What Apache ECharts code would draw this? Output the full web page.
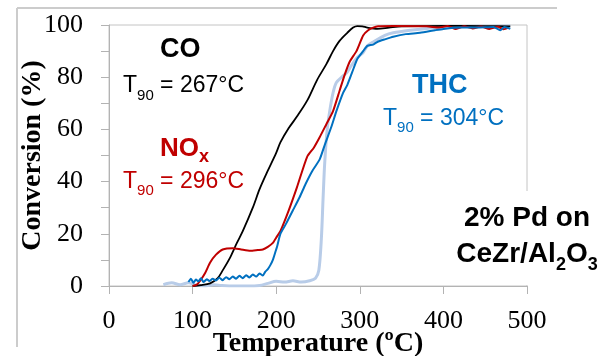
<!DOCTYPE html>
<html><head><meta charset="utf-8">
<script src="https://cdn.jsdelivr.net/npm/echarts@6/dist/echarts.min.js"></script>
<style>html,body{margin:0;padding:0;background:#fff}#c{width:605px;height:356px}</style>
</head><body><div id="c"></div>
<script>
// ---- data (temperature °C, conversion %) ----
const xTicks = [0, 100, 200, 300, 400, 500];
const yTicks = [0, 20, 40, 60, 80, 100];

const coData = [[100,0],[110,0.3],[121,1],[130,3],[136,6],[145,11],[153,16.5],[160,21],[172,30],[180,37],[189,43.5],[200,51],[205,55],[215,60.5],[225,65],[237,71],[249,79],[260,85],[268,90],[276,94],[285,97],[292,99],[297,99.6],[303,99.5],[309,99],[321,98.5],[335,99],[350,99.5],[400,99.7],[450,99.6],[480,99.5]];

const noxData = [[100,0],[105,0.5],[109,2],[115,5],[121,9],[128,12],[136,14],[148,14.5],[158,14],[169,13.5],[178,13.8],[184,14],[190,15],[196,16.5],[201,19],[205,21],[215,29],[225,38],[237,49.5],[245,53],[252,57],[260,62],[268,67],[276,75],[282,81],[288,86],[296,90],[304,96],[310,98],[316,99],[322,99.5],[340,99.6],[380,99.5],[395,99],[405,99.6],[415,98.5],[425,99.5],[435,98.7],[445,99.4],[455,98.5],[465,99.3],[472,98.4],[478,99]];

const thcData = [[95,1.5],[98,2.8],[101,1.2],[104,2.5],[107,1.8],[110,3],[113,1.5],[117,2.6],[120,1.9],[124,2.8],[128,2.1],[132,3.2],[136,2.2],[140,3.4],[144,2.6],[148,3.6],[152,2.8],[156,3.9],[160,3],[164,4.1],[168,3.3],[172,4.4],[176,3.6],[180,4.8],[184,4],[187,5.5],[190,6.5],[193,8],[196,10],[199,13],[201,15],[205,20],[212,24],[220,29],[228,34],[235,39],[243,44],[252,48.5],[258,54],[266,61],[272,67],[280,74],[285,77],[291,82],[297,87],[304,90],[309,92],[316,92.5],[321,93.5],[330,94.5],[340,95.5],[355,96.5],[372,97],[390,98],[400,98.5],[420,99],[440,99],[460,99.2],[468,98],[473,99.2],[480,98.5]];

const thc2Data = [[65,0.5],[75,1.2],[85,0.5],[95,1.2],[105,0.3],[115,0],[125,0.5],[135,0.2],[150,0],[165,0],[180,0.2],[190,1],[200,1.8],[210,1.5],[220,2],[230,1.5],[240,2],[247,3],[251,6],[254,18],[256,33],[258,47],[261,60],[264,67],[268,74],[272,78],[280,80.5],[285,82],[290,84.5],[297,87.5],[304,89.5],[309,92],[316,93.5],[330,96],[340,97],[360,98],[380,98.7],[400,99.2],[440,99.5],[480,99.6]];

// ---- text helper ----
const mctx = document.createElement('canvas').getContext('2d');
function fontStr(size, bold){ return (bold ? 'bold ' : '') + size + 'px "Liberation Sans", Arial, sans-serif'; }
function runs(x, y, segs, color, align){
  const widths = segs.map(s => { mctx.font = fontStr(s[1], s[2]); return mctx.measureText(s[0]).width; });
  const total = widths.reduce((a,b)=>a+b, 0);
  let cx = align === 'center' ? x - total/2 : x;
  const out = [];
  segs.forEach((s,i) => {
    out.push({type:'text', z:100, silent:true, style:{text:s[0], x:cx, y:y + s[3], font:fontStr(s[1], s[2]), fill:color, textAlign:'left', align:'left', textVerticalAlign:'middle', verticalAlign:'middle'}});
    cx += widths[i];
  });
  return out;
}

const BLACK = '#000000', RED = '#c00000', BLUE = '#0070c0';
const graphics = [
  {type:'line', z:1, silent:true, shape:{x1:17, y1:8, x2:557, y2:8}, style:{stroke:'#cccccc', lineWidth:2}},
  {type:'line', z:1, silent:true, shape:{x1:17, y1:8, x2:17, y2:347}, style:{stroke:'#cccccc', lineWidth:2}},
  {type:'rect', z:90, silent:true, shape:{x:520, y:191, width:20, height:94}, style:{fill:'#ffffff'}},
].concat(
  runs(160, 50, [['CO', 27, true, 0]], BLACK),
  runs(123, 86, [['T', 23, false, 0], ['90', 15, false, 9.5], [' = 267°C', 23, false, 0]], BLACK),
  runs(160, 149, [['NO', 26, true, 0], ['x', 18, true, 8]], RED),
  runs(123, 181.5, [['T', 23, false, 0], ['90', 15, false, 9.5], [' = 296°C', 23, false, 0]], RED),
  runs(412, 86, [['THC', 27, true, 0]], BLUE),
  runs(383, 118.5, [['T', 23, false, 0], ['90', 15, false, 9.5], [' = 304°C', 23, false, 0]], BLUE),
  runs(527, 218, [['2% Pd on', 28, true, 0]], BLACK, 'center'),
  runs(527, 254, [['CeZr/Al', 28, true, 0], ['2', 18, true, 11], ['O', 28, true, 0], ['3', 18, true, 11]], BLACK, 'center')
);

const axisGray = '#b3b3b3';
const chart = echarts.init(document.getElementById('c'), null, {renderer:'canvas'});
chart.setOption({
  animation: false,
  backgroundColor: '#ffffff',
  grid: {left:109, right:78, top:25, bottom:70, containLabel:false, outerBoundsMode:'none', show:true, borderColor:'#c4c4c4', borderWidth:1, backgroundColor:'transparent'},
  xAxis: {
    type:'value', min:xTicks[0], max:xTicks[xTicks.length-1], interval:100,
    name:'Temperature (ºC)', nameLocation:'middle', nameGap:44, nameMoveOverlap:false,
    nameTextStyle:{fontFamily:'"Liberation Serif", "Times New Roman", serif', fontWeight:'bold', fontSize:28, color:'#000'},
    axisLine:{show:true, onZero:false, lineStyle:{color:axisGray, width:1}},
    axisTick:{show:true, inside:false, length:8, lineStyle:{color:axisGray}},
    axisLabel:{margin:22, fontFamily:'"Liberation Serif", "Times New Roman", serif', fontSize:26, color:'#000'},
    splitLine:{show:false}
  },
  yAxis: {
    type:'value', min:yTicks[0], max:yTicks[yTicks.length-1], interval:10,
    name:'Conversion (%)', nameLocation:'middle', nameGap:62, nameMoveOverlap:false,
    nameTextStyle:{fontFamily:'"Liberation Serif", "Times New Roman", serif', fontWeight:'bold', fontSize:28, color:'#000'},
    axisLine:{show:true, onZero:false, lineStyle:{color:axisGray, width:1}},
    axisTick:{show:true, inside:false, length:8, lineStyle:{color:axisGray}},
    axisLabel:{margin:26, fontFamily:'"Liberation Serif", "Times New Roman", serif', fontSize:26, color:'#000',
      formatter: v => (yTicks.indexOf(v) >= 0 ? String(v) : '')},
    splitLine:{show:false}
  },
  series: [
    {type:'line', name:'THC-2', data:thc2Data, showSymbol:false, smooth:0.3, lineStyle:{color:'#b8cce8', width:3}, z:2},
    {type:'line', name:'CO', data:coData, showSymbol:false, smooth:0.3, lineStyle:{color:BLACK, width:1.8}, z:3},
    {type:'line', name:'NOx', data:noxData, showSymbol:false, smooth:0.2, lineStyle:{color:RED, width:2}, z:4},
    {type:'line', name:'THC', data:thcData, showSymbol:false, smooth:0.2, lineStyle:{color:BLUE, width:2}, z:5}
  ],
  graphic: graphics
});
</script></body></html>
